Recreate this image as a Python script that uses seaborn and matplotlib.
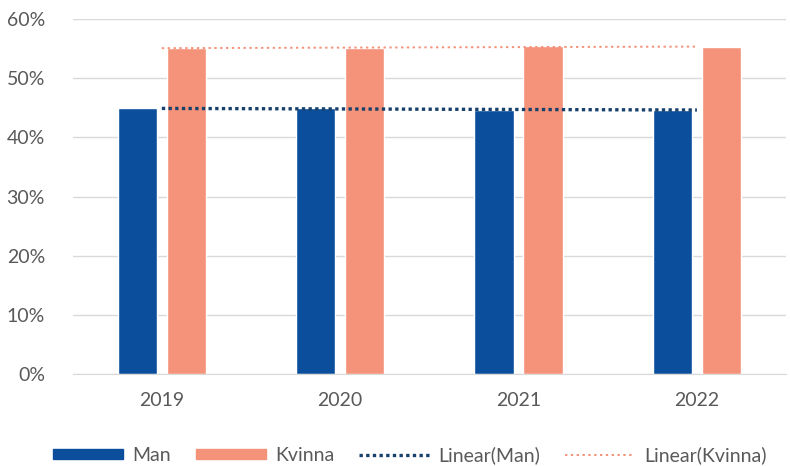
import matplotlib
matplotlib.use('Agg')
import matplotlib.pyplot as plt
import numpy as np
import pandas as pd
import seaborn as sns
from matplotlib.lines import Line2D
from matplotlib.patches import Patch

years = ['2019', '2020', '2021', '2022']
man = [44.9, 44.9, 44.6, 44.7]
kvinna = [55.1, 55.1, 55.4, 55.3]

man_color = '#0b4f9c'
kvinna_color = '#f4927a'
man_trend = '#17406a'
text_color = '#595959'

sns.set_style('white')
plt.rcParams['font.family'] = ['Lato', 'DejaVu Sans']

df = pd.DataFrame({
    'year': years * 2,
    'value': man + kvinna,
    'kon': ['Man'] * 4 + ['Kvinna'] * 4,
})

fig = plt.figure(figsize=(7.9, 4.66), dpi=100)
ax = fig.add_axes([0.092, 0.197, 0.903, 0.762])

sns.barplot(data=df, x='year', y='value', hue='kon', hue_order=['Man', 'Kvinna'],
            palette=[man_color, kvinna_color], width=0.55, gap=0.2,
            saturation=1, ax=ax, legend=False)

# linear trendlines
xs = np.arange(len(years))
for vals, col, lw, ls in [(man, man_trend, 2.4, (0, (1, 1))),
                          (kvinna, kvinna_color, 1.4, (0, (1.2, 1.8)))]:
    k, m = np.polyfit(xs, vals, 1)
    ax.plot(xs, k * xs + m, color=col, lw=lw, linestyle=ls, zorder=3)

ax.set_ylim(0, 60)
ax.set_xlim(-0.5, 3.5)
ax.set_yticks(range(0, 61, 10))
ax.set_yticklabels([f'{t}%' for t in range(0, 61, 10)])
ax.yaxis.grid(True, color='#d9d9d9', lw=1)
ax.set_axisbelow(True)
for s in ['top', 'right', 'left']:
    ax.spines[s].set_visible(False)
ax.spines['bottom'].set_color('#d9d9d9')
ax.tick_params(axis='both', length=0, colors=text_color, labelsize=14)
ax.tick_params(axis='x', pad=13)
ax.tick_params(axis='y', pad=20)
ax.set_xlabel('')
ax.set_ylabel('')

handles = [
    Patch(color=man_color),
    Patch(color=kvinna_color),
    Line2D([0], [0], color=man_trend, lw=2.4, linestyle=(0, (1, 1))),
    Line2D([0], [0], color=kvinna_color, lw=1.4, linestyle=(0, (1.2, 1.8))),
]
labels = ['Man', 'Kvinna', 'Linear(Man)', 'Linear(Kvinna)']
fig.legend(handles, labels, loc='center', bbox_to_anchor=(0.519, 0.023), ncol=4,
           frameon=False, fontsize=14, labelcolor=text_color,
           handlelength=3.6, handleheight=0.4, columnspacing=1.25, handletextpad=0.5)

fig.savefig('out.png', dpi=100)
